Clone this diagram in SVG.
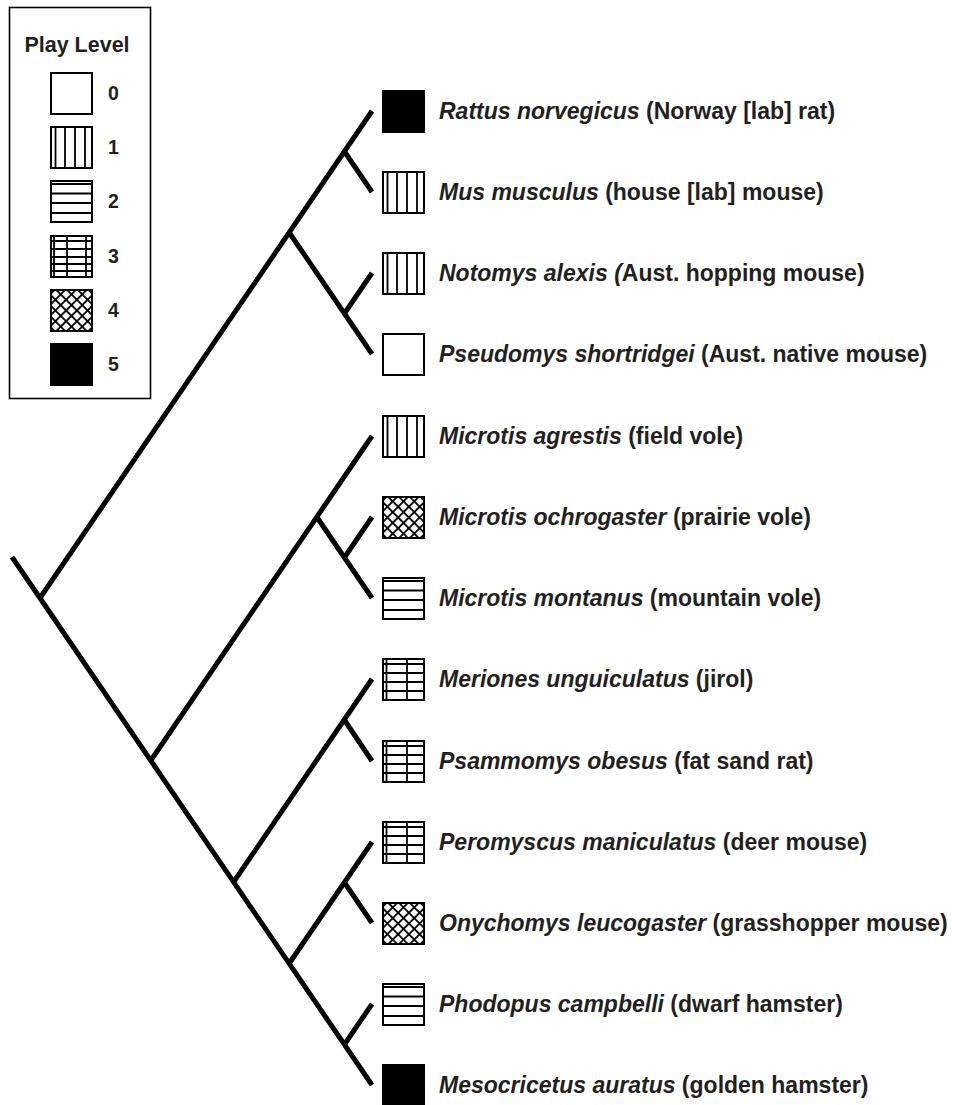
<svg xmlns="http://www.w3.org/2000/svg" xmlns:xlink="http://www.w3.org/1999/xlink" width="956" height="1105" viewBox="0 0 956 1105">
<style>
.box{fill:#fff;stroke:#000;stroke-width:2}
.pl{stroke:#000;stroke-width:1.8;fill:none}
.br{stroke:#000;stroke-width:5;fill:none;stroke-linecap:butt}
.sp{font-family:"Liberation Sans",Arial,sans-serif;font-weight:bold;font-size:23px;fill:#231f20}
.it{font-style:italic}
.lg{font-family:"Liberation Sans",Arial,sans-serif;font-weight:bold;fill:#231f20}
</style>
<defs>
<pattern id="dA" width="7.6" height="7.6" patternUnits="userSpaceOnUse" patternTransform="rotate(45)">
<line x1="3.8" y1="0" x2="3.8" y2="7.6" stroke="#000" stroke-width="1.8"/>
</pattern>
<pattern id="dB" width="7.6" height="7.6" patternUnits="userSpaceOnUse" patternTransform="rotate(-45)">
<line x1="3.8" y1="0" x2="3.8" y2="7.6" stroke="#000" stroke-width="1.8"/>
</pattern>
<g id="p0"><rect class="box" x="1" y="1" width="41" height="41"/></g>
<g id="p1"><rect class="box" x="1" y="1" width="41" height="41"/><path class="pl" d="M5.5,1V42M15,1V42M25,1V42M35,1V42"/></g>
<g id="p2"><rect class="box" x="1" y="1" width="41" height="41"/><path class="pl" d="M1,4H42M1,13.5H42M1,23H42M1,33H42"/></g>
<g id="p3"><rect class="box" x="1" y="1" width="41" height="41"/><path class="pl" d="M1,6H42M1,15H42M1,24H42M1,33H42M4.5,1V42M25,1V42"/></g>
<g id="p3L"><rect class="box" x="1" y="1" width="41" height="41"/><path class="pl" d="M1,6H42M1,14H42M1,22H42M1,29H42M1,36H42M4,1V42M17,1V42M36,1V42"/></g>
<g id="p4"><rect class="box" x="1" y="1" width="41" height="41"/><rect x="1" y="1" width="41" height="41" fill="url(#dA)"/><rect x="1" y="1" width="41" height="41" fill="url(#dB)"/><rect x="1" y="1" width="41" height="41" fill="none" stroke="#000" stroke-width="2"/></g>
<g id="p5"><rect x="1" y="1" width="41" height="41" fill="#000" stroke="#000" stroke-width="2"/></g>
</defs>

<g id="legend">
<rect x="9.5" y="7.5" width="141" height="391" fill="#fff" stroke="#000" stroke-width="1.6"/>
<text class="lg" x="77" y="52" font-size="21.5" text-anchor="middle">Play Level</text>
<use xlink:href="#p0" x="50" y="72"/>
<use xlink:href="#p1" x="50" y="126"/>
<use xlink:href="#p2" x="50" y="180"/>
<use xlink:href="#p3L" x="50" y="235"/>
<use xlink:href="#p4" x="50" y="289"/>
<use xlink:href="#p5" x="50" y="343"/>
<text class="lg" x="108" y="100" font-size="19.5">0</text>
<text class="lg" x="108" y="154" font-size="19.5">1</text>
<text class="lg" x="108" y="208" font-size="19.5">2</text>
<text class="lg" x="108" y="263" font-size="19.5">3</text>
<text class="lg" x="108" y="317" font-size="19.5">4</text>
<text class="lg" x="108" y="371" font-size="19.5">5</text>
</g>

<g id="connectors">
<path class="br" d="M12,557L372,1085"/>
<path class="br" d="M40,598L372,111"/>
<path class="br" d="M289.2,232.5L372,354"/>
<path class="br" d="M344.4,151.5L372,192"/>
<path class="br" d="M344.4,313.5L372,273"/>
<path class="br" d="M150.8,760.5L372,436"/>
<path class="br" d="M316.8,517L372,598"/>
<path class="br" d="M344.4,557.5L372,517"/>
<path class="br" d="M233.6,882L372,679"/>
<path class="br" d="M344.4,720L372,761"/>
<path class="br" d="M289.2,963.5L372,842"/>
<path class="br" d="M344.4,882.5L372,923"/>
<path class="br" d="M344.4,1044.5L372,1004"/>
</g>

<g id="n-rattus"><use xlink:href="#p5" x="382" y="90"/><text class="sp" x="439" y="119"><tspan class="it">Rattus norvegicus</tspan> (Norway [lab] rat)</text></g>
<g id="n-mus"><use xlink:href="#p1" x="382" y="171"/><text class="sp" x="439" y="200"><tspan class="it">Mus musculus</tspan> (house [lab] mouse)</text></g>
<g id="n-notomys"><use xlink:href="#p1" x="382" y="252"/><text class="sp" x="439" y="281"><tspan class="it">Notomys alexis (</tspan>Aust. hopping mouse)</text></g>
<g id="n-pseudomys"><use xlink:href="#p0" x="382" y="333"/><text class="sp" x="439" y="362"><tspan class="it">Pseudomys shortridgei</tspan> (Aust. native mouse)</text></g>
<g id="n-agrestis"><use xlink:href="#p1" x="382" y="415"/><text class="sp" x="439" y="444"><tspan class="it">Microtis agrestis</tspan> (field vole)</text></g>
<g id="n-ochrogaster"><use xlink:href="#p4" x="382" y="496"/><text class="sp" x="439" y="525"><tspan class="it">Microtis ochrogaster</tspan> (prairie vole)</text></g>
<g id="n-montanus"><use xlink:href="#p2" x="382" y="577"/><text class="sp" x="439" y="606"><tspan class="it">Microtis montanus</tspan> (mountain vole)</text></g>
<g id="n-meriones"><use xlink:href="#p3" x="382" y="658"/><text class="sp" x="439" y="687"><tspan class="it">Meriones unguiculatus</tspan> (jirol)</text></g>
<g id="n-psammomys"><use xlink:href="#p3" x="382" y="740"/><text class="sp" x="439" y="769"><tspan class="it">Psammomys obesus</tspan> (fat sand rat)</text></g>
<g id="n-peromyscus"><use xlink:href="#p3" x="382" y="821"/><text class="sp" x="439" y="850"><tspan class="it">Peromyscus maniculatus</tspan> (deer mouse)</text></g>
<g id="n-onychomys"><use xlink:href="#p4" x="382" y="902"/><text class="sp" x="439" y="931"><tspan class="it">Onychomys leucogaster</tspan> (grasshopper mouse)</text></g>
<g id="n-phodopus"><use xlink:href="#p2" x="382" y="983"/><text class="sp" x="439" y="1012"><tspan class="it">Phodopus campbelli</tspan> (dwarf hamster)</text></g>
<g id="n-mesocricetus"><use xlink:href="#p5" x="382" y="1064"/><text class="sp" x="439" y="1093"><tspan class="it">Mesocricetus auratus</tspan> (golden hamster)</text></g>
</svg>
